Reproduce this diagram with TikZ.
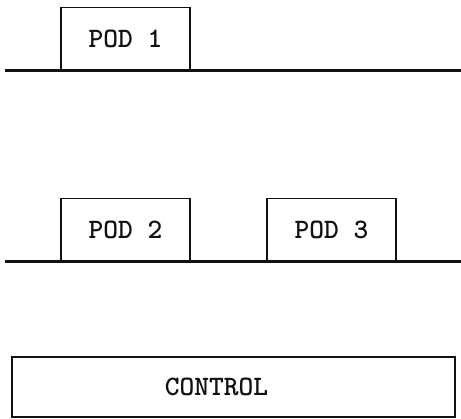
\documentclass[tikz,border=0pt]{standalone}
\usepackage{tikz}
\usetikzlibrary{positioning}
\definecolor{tinta}{HTML}{111111}
\tikzset{
  caja/.style={draw=tinta,line width=1.3pt,fill=white,inner sep=0pt,minimum width=3.225cm,minimum height=1.55cm,font=\fontsize{20}{24}\selectfont\ttfamily\bfseries,text=tinta},
  cajactl/.style={caja,minimum width=11.075cm,minimum height=1.5cm},
  bus/.style={draw=tinta,line width=1.7pt},
}
\begin{document}
\begin{tikzpicture}[x=0.025cm,y=-0.025cm]
\useasboundingbox (0,0) rectangle (461,419);
\coordinate (b1i) at (5,70.5);
\coordinate (b1d) at (461,70.5);
\coordinate (b2i) at (5,261.5);
\coordinate (b2d) at (461,261.5);
\draw[bus] (b1i) -- (b1d);
\draw[bus] (b2i) -- (b2d);
\node[caja,anchor=south] (pod1) at (125.5,70.5) {POD 1};
\node[caja,anchor=south] (pod2) at (125.5,261.5) {POD 2};
\node[caja,anchor=south] (pod3) at (331.5,261.5) {POD 3};
\node[cajactl] (control) at (233.5,387) {\hspace*{-0.85cm}CONTROL};
\end{tikzpicture}
\end{document}
